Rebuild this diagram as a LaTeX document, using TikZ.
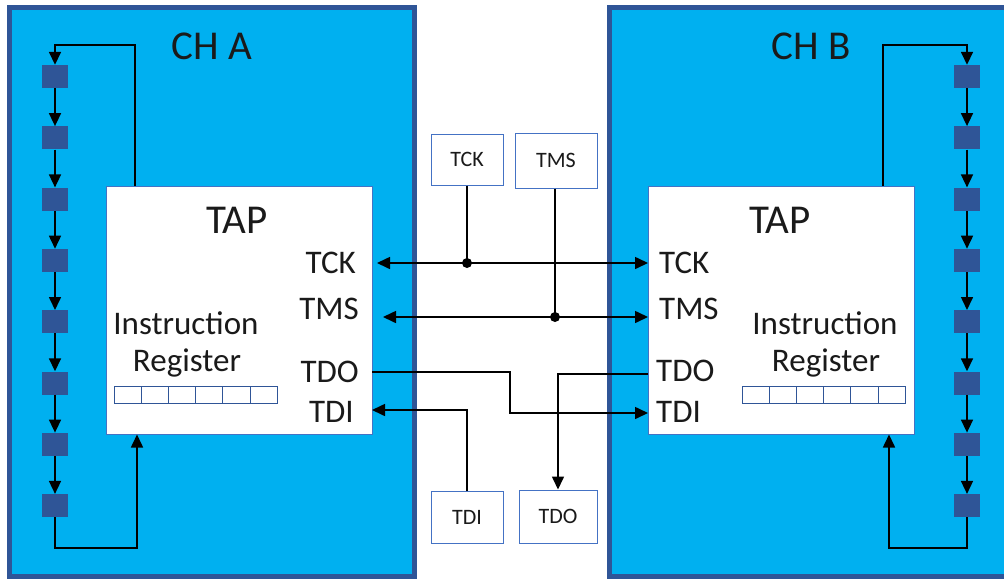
\documentclass[tikz,border=0pt]{standalone}
\usepackage{fontspec}
\setmainfont{Carlito}
\usetikzlibrary{arrows.meta}
\definecolor{chfill}{HTML}{00B0F0}
\definecolor{chedge}{HTML}{2F5597}
\definecolor{thin}{HTML}{4472C4}
\definecolor{txt}{HTML}{1A1A1A}
\tikzset{
  chbox/.style={draw=chedge,line width=5pt,fill=chfill},
  tapbox/.style={draw=thin,line width=1pt,fill=white,minimum width=266pt,minimum height=248pt,inner sep=0pt},
  sig/.style={draw=thin,line width=1pt,fill=white,inner sep=0pt,font=\fontsize{22}{22}\selectfont,text=txt},
  cell/.style={draw=chedge,line width=0.9pt,fill=white,minimum width=27.2pt,minimum height=17pt,inner sep=0pt},
  sq/.style={fill=chedge,draw=none,minimum width=26pt,minimum height=23pt,inner sep=0pt},
  wire/.style={line width=1.6pt,black},
  arr/.style={wire,-{Triangle[length=13pt,width=12pt]}},
  barr/.style={wire,{Triangle[length=13pt,width=12pt]}-{Triangle[length=13pt,width=12pt]}},
  big/.style={font=\fontsize{41}{41}\selectfont,text=txt,inner sep=0pt},
  port/.style={font=\fontsize{33}{33}\selectfont,text=txt,inner sep=0pt},
  dotn/.style={circle,fill=black,minimum size=10pt,inner sep=0pt},
}
\begin{document}
\begin{tikzpicture}[x=1pt,y=-1pt]
\useasboundingbox (0,0) rectangle (1004,579);
\begin{scope}
\clip (0,0) rectangle (1004,579);
\path[chbox] (9.5,7.5) rectangle (414.5,576);
\path[chbox] (609.5,7.5) rectangle (1030,576);
\end{scope}

\node[big] (chA) at (212,46) {CH A};
\node[big] (chB) at (811,46) {CH B};

% TAP boxes
\node[tapbox] (tapA) at (239,310) {};
\node[tapbox] (tapB) at (781,310) {};
\node[big] (tapAt) at (237,220) {TAP};
\node[big] (tapBt) at (780,220) {TAP};

% port labels
\node[port,anchor=east] (aTCKl) at (356,263) {TCK};
\node[port,anchor=east] (aTMSl) at (359,309) {TMS};
\node[port,anchor=east] (aTDOl) at (359,372) {TDO};
\node[port,anchor=east] (aTDIl) at (354,412) {TDI};
\node[port,anchor=west] (bTCKl) at (659,263) {TCK};
\node[port,anchor=west] (bTMSl) at (659,309) {TMS};
\node[port,anchor=west] (bTDOl) at (656,371) {TDO};
\node[port,anchor=west] (bTDIl) at (656,412) {TDI};

% instruction register
\node[port] (irA1) at (186,323) {Instruction};
\node[port] (irA2) at (187,363) {Register};
\node[port] (irB1) at (825,323) {Instruction};
\node[port] (irB2) at (826,363) {Register};
\foreach \i in {0,...,5}{
  \node[cell] (ca\i) at ({114+13.6+27.2*\i},394.5) {};
  \node[cell] (cb\i) at ({742+13.6+27.2*\i},394.5) {};
}

% signal boxes
\node[sig,minimum width=72pt,minimum height=51pt] (sTCK) at (467,159.5) {TCK};
\node[sig,minimum width=82pt,minimum height=55pt] (sTMS) at (556,160.5) {TMS};
\node[sig,minimum width=72pt,minimum height=52pt] (sTDI) at (467,517) {TDI};
\node[sig,minimum width=78pt,minimum height=53pt] (sTDO) at (558,516.5) {TDO};

% port coordinates
\coordinate (aTCK) at (377,263);
\coordinate (bTCK) at (648,263);
\coordinate (aTMS) at (383,317);
\coordinate (bTMS) at (648,317);
\coordinate (aTDO) at (372,372);
\coordinate (bTDI) at (648,413);
\coordinate (bTDO) at (648,374);
\coordinate (aTDI) at (372,410);

\node[dotn] (dTCK) at (467,263) {};
\node[dotn] (dTMS) at (555,317) {};

\draw[barr] (aTCK) -- (bTCK);
\draw[barr] (aTMS) -- (bTMS);
\draw[wire] (sTCK.south) -- (dTCK.center);
\draw[wire] (sTMS.south -| dTMS) -- (dTMS.center);
\draw[arr] (aTDO) -- (510,372) -- (510,413) -- (bTDI);
\draw[arr] (bTDO) -- (558,374) -- (sTDO.north);
\draw[arr] (sTDI.north) -- (467,410) -- (aTDI);

% scan chains
\foreach \k in {1,...,8}{
  \node[sq] (a\k) at (55,{76.5+61.3*(\k-1)}) {};
  \node[sq] (b\k) at (967,{76.5+61.3*(\k-1)}) {};
}
\foreach \k [evaluate=\k as \n using int(\k+1)] in {1,...,7}{
  \draw[arr] (a\k.south) -- (a\n.north);
  \draw[arr] (b\k.south) -- (b\n.north);
}
\draw[arr] (tapA.north -| 135,0) -- (135,45) -- (55,45) -- (a1.north);
\draw[arr] (a8.south) -- (55,548) -- (137,548) -- (tapA.south -| 137,0);
\draw[arr] (tapB.north -| 883,0) -- (883,45) -- (967,45) -- (b1.north);
\draw[arr] (b8.south) -- (967,548) -- (889,548) -- (tapB.south -| 889,0);
\end{tikzpicture}
\end{document}
